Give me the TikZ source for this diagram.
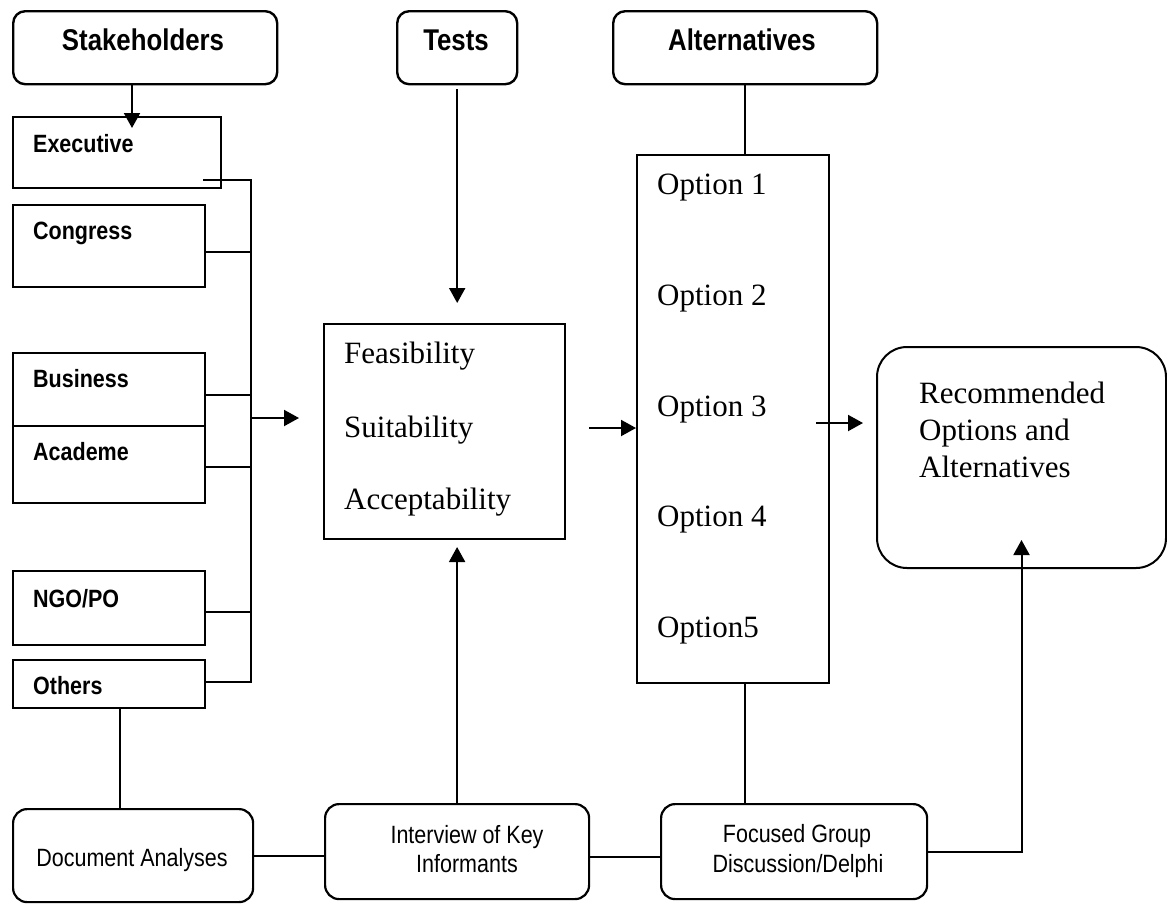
\documentclass[tikz,border=0pt]{standalone}
\usepackage{fontspec}
\setmainfont{Liberation Serif}
\newfontfamily\narrowsans[FakeStretch=0.86]{Liberation Sans}
\usetikzlibrary{arrows.meta,positioning}

\tikzset{
	headbox/.style={draw,rounded corners=12pt,line width=2.4pt,inner sep=0pt,anchor=north west},
	groupbox/.style={draw,line width=2.2pt,inner sep=0pt,anchor=north west},
	methodbox/.style={draw,rounded corners=14pt,line width=2.2pt,inner sep=0pt,anchor=north west},
	headtext/.style={anchor=base,inner sep=0pt,font=\narrowsans\bfseries\fontsize{30}{36}\selectfont},
	grouptext/.style={anchor=base west,inner sep=0pt,font=\narrowsans\bfseries\fontsize{25}{30}\selectfont},
	methodtext/.style={anchor=base,inner sep=0pt,font=\narrowsans\fontsize{25}{30}\selectfont},
	itemtext/.style={anchor=base west,inner sep=0pt,font=\fontsize{31}{37}\selectfont},
	link/.style={line width=2pt},
	arr/.style={line width=2pt,-{Triangle[length=15pt,width=16pt]}}
}

\begin{document}
\begin{tikzpicture}[x=1pt,y=-1pt]
	\useasboundingbox (0,0) rectangle (1167,903);

	% top headings
	\node[headbox,minimum width=264pt,minimum height=73pt] (stake) at (12,10) {};
	\node[headbox,minimum width=120pt,minimum height=73pt] (tests) at (396,10) {};
	\node[headbox,minimum width=264pt,minimum height=73pt] (alts) at (612,10) {};
	\node[headtext] (stake-t) at (143,50) {Stakeholders};
	\node[headtext] (tests-t) at (456,50) {Tests};
	\node[headtext] (alts-t) at (742,50) {Alternatives};

	% stakeholder groups
	\node[groupbox,minimum width=208pt,minimum height=71pt] (exec) at (12,116) {};
	\node[groupbox,minimum width=192pt,minimum height=82pt] (cong) at (12,204) {};
	\node[groupbox,minimum width=192pt,minimum height=73pt] (busi) at (12,352) {};
	\node[groupbox,minimum width=192pt,minimum height=77pt] (acad) at (12,425) {};
	\node[groupbox,minimum width=192pt,minimum height=74pt] (ngo) at (12,570) {};
	\node[groupbox,minimum width=192pt,minimum height=48pt] (oth) at (12,659) {};
	\node[grouptext] (exec-t) at (33,152) {Executive};
	\node[grouptext] (cong-t) at (33,239) {Congress};
	\node[grouptext] (busi-t) at (33,387) {Business};
	\node[grouptext] (acad-t) at (33,460) {Academe};
	\node[grouptext] (ngo-t) at (33,607) {NGO/PO};
	\node[grouptext] (oth-t) at (33,694) {Others};

	% tests and options
	\node[groupbox,line width=2pt,minimum width=241pt,minimum height=215pt] (feas) at (323,323) {};
	\node[itemtext] (feas-1) at (344,363) {Feasibility};
	\node[itemtext] (feas-2) at (344,437) {Suitability};
	\node[itemtext] (feas-3) at (344,509) {Acceptability};

	\node[groupbox,line width=2pt,minimum width=192pt,minimum height=528pt] (opts) at (636,154) {};
	\node[itemtext] (opt-1) at (657,194) {Option 1};
	\node[itemtext] (opt-2) at (657,305) {Option 2};
	\node[itemtext] (opt-3) at (657,416) {Option 3};
	\node[itemtext] (opt-4) at (657,526) {Option 4};
	\node[itemtext] (opt-5) at (657,637) {Option5};

	\node[groupbox,line width=2pt,rounded corners=30pt,minimum width=289pt,minimum height=221pt] (rec) at (876,346) {};
	\node[itemtext] (rec-1) at (919,403) {Recommended};
	\node[itemtext] (rec-2) at (919,440) {Options and};
	\node[itemtext] (rec-3) at (919,477) {Alternatives};

	% methods
	\node[methodbox,minimum width=240pt,minimum height=93pt] (doc) at (12,808) {};
	\node[methodbox,minimum width=264pt,minimum height=95pt] (intv) at (324,803) {};
	\node[methodbox,minimum width=266pt,minimum height=95pt] (focus) at (660,803) {};
	\node[methodtext] (doc-t) at (132,866) {Document Analyses};
	\node[methodtext] (intv-1) at (467,843) {Interview of Key};
	\node[methodtext] (intv-2) at (467,872) {Informants};
	\node[methodtext] (focus-1) at (797,842) {Focused Group};
	\node[methodtext] (focus-2) at (798,872) {Discussion/Delphi};

	% free ends
	\coordinate (exec-in) at (132,128);
	\coordinate (exec-out) at (203,180);
	\coordinate (bus-end) at (251,682);
	\coordinate (feas-in) at (299,418);
	\coordinate (rec-in) at (863,423);

	% connectors
	\draw[arr] (stake.south -| exec-in) -- (exec-in);
	\draw[link] (exec-out) -| (bus-end) -- (bus-end -| oth.east);
	\draw[link] ([yshift=-6pt]cong.east) -- ([yshift=-6pt]cong.east -| bus-end);
	\draw[link] ([yshift=-5.5pt]busi.east) -- ([yshift=-5.5pt]busi.east -| bus-end);
	\draw[link] ([yshift=-2.5pt]acad.east) -- ([yshift=-2.5pt]acad.east -| bus-end);
	\draw[link] ([yshift=-4pt]ngo.east) -- ([yshift=-4pt]ngo.east -| bus-end);
	\draw[arr] (feas-in -| bus-end) -- (feas-in);

	\draw[arr] ([yshift=-4pt]tests.south) -- ([yshift=20pt]tests.south |- feas.north);
	\draw[link] (alts.south) -- (alts.south |- opts.north);
	\draw[arr] ([xshift=23pt,yshift=3.5pt]feas.east) -- ([yshift=3.5pt]feas.east -| opts.west);
	\draw[arr] ([xshift=-14pt]opts.east |- rec-in) -- (rec-in);

	\draw[link] ([xshift=11pt]oth.south) -- ([xshift=11pt]oth.south |- doc.north);
	\draw[link] (doc.east) -- (doc.east -| intv.west);
	\draw[link] ([yshift=-5pt]intv.east) -- ([yshift=-5pt]focus.west);
	\draw[arr] (intv.north) -- ([yshift=-7pt]intv.north |- feas.south);
	\draw[link] (opts.south -| alts.south) -- (focus.north -| alts.south);
	\draw[arr] (focus.east) -| ([yshift=29pt]rec.south);
\end{tikzpicture}
\end{document}
